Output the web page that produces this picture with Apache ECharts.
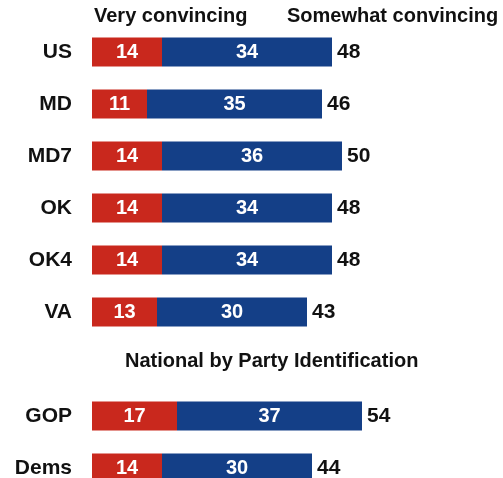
<!DOCTYPE html>
<html>
<head>
<meta charset="utf-8">
<script src="https://cdn.jsdelivr.net/npm/echarts@6/dist/echarts.min.js"></script>
<style>
  html, body { margin: 0; padding: 0; background: #fff; }
  #chart { width: 503px; height: 478px; }
</style>
</head>
<body>
<div id="chart"></div>
<script>
// rows, with an empty slot for the party heading
var categories = ['US', 'MD', 'MD7', 'OK', 'OK4', 'VA', '', 'GOP', 'Dems'];
var veryConvincing = [14, 11, 14, 14, 14, 13, '-', 17, 14];
var somewhatConvincing = [34, 35, 36, 34, 34, 30, '-', 37, 30];
var totals = [48, 46, 50, 48, 48, 43, '-', 54, 44];

var font = 'Liberation Sans, Arial, sans-serif';

var chart = echarts.init(document.getElementById('chart'));

chart.setOption({
  animation: false,
  backgroundColor: '#fff',
  grid: {
    left: 92,
    top: 26,
    width: 400,
    height: 468,
    outerBoundsMode: 'none'
  },
  xAxis: {
    type: 'value',
    min: 0,
    max: 80,
    show: false
  },
  yAxis: {
    type: 'category',
    data: categories,
    inverse: true,
    axisLine: { show: false },
    axisTick: { show: false },
    axisLabel: {
      margin: 20,
      color: '#111',
      fontFamily: font,
      fontWeight: 'bold',
      fontSize: 21
    }
  },
  graphic: [
    {
      type: 'text',
      left: 94,
      top: 6,
      style: { text: 'Very convincing', font: 'bold 20px ' + font, fill: '#111' }
    },
    {
      type: 'text',
      left: 287,
      top: 6,
      style: { text: 'Somewhat convincing', font: 'bold 20px ' + font, fill: '#111' }
    },
    {
      type: 'text',
      left: 125,
      top: 351,
      style: { text: 'National by Party Identification', font: 'bold 20px ' + font, fill: '#111' }
    }
  ],
  series: [
    {
      name: 'Very convincing',
      type: 'bar',
      stack: 'all',
      barWidth: 29,
      data: veryConvincing,
      itemStyle: { color: '#C9281D' },
      label: {
        show: true,
        position: 'inside',
        color: '#fff',
        fontFamily: font,
        fontWeight: 'bold',
        fontSize: 20
      }
    },
    {
      name: 'Somewhat convincing',
      type: 'bar',
      stack: 'all',
      barWidth: 29,
      data: somewhatConvincing,
      itemStyle: { color: '#143F87' },
      label: {
        show: true,
        position: 'inside',
        color: '#fff',
        fontFamily: font,
        fontWeight: 'bold',
        fontSize: 20
      }
    },
    {
      name: 'Total',
      type: 'bar',
      barWidth: 29,
      barGap: '-100%',
      z: 1,
      data: totals,
      itemStyle: { color: 'rgba(0,0,0,0)' },
      label: {
        show: true,
        position: 'right',
        distance: 5,
        color: '#111',
        fontFamily: font,
        fontWeight: 'bold',
        fontSize: 21
      }
    }
  ]
});
</script>
</body>
</html>
